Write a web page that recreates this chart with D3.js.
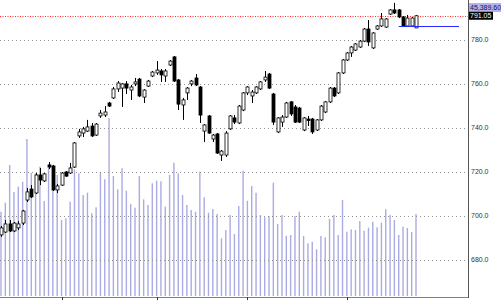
<!DOCTYPE html>
<html>
<head>
<meta charset="utf-8">
<script src="https://cdn.jsdelivr.net/npm/d3@7"></script>
<style>
  body { margin: 0; background: #fff; }
  svg { display: block; font-family: "Liberation Sans", Arial, sans-serif; }
</style>
</head>
<body>
<svg id="chart" width="501" height="300"></svg>
<script>
// daily OHLC
var opens = [691.2, 692.5, 696.2, 693.0, 694.4, 696.6, 707.1, 712.1, 710.3, 718.5,
  715.8, 723.1, 722.6, 711.7, 713.9, 719.9, 719.4, 722.1, 736.3, 737.6,
  738.5, 740.8, 736.7, 745.4, 745.8, 751.3, 753.6, 757.7, 758.1, 760.0,
  757.2, 760.0, 762.2, 754.0, 759.0, 763.6, 765.0, 765.9, 763.6, 768.6,
  772.3, 761.8, 750.4, 755.9, 760.0, 762.7, 758.6, 738.5, 745.4, 734.9,
  737.2, 727.6, 727.6, 739.5, 744.5, 742.2, 748.1, 755.9, 754.5, 755.9,
  757.7, 761.8, 764.5, 755.4, 738.1, 742.6, 744.9, 751.8, 749.5, 749.0,
  739.0, 744.0, 744.0, 739.0, 743.6, 747.2, 751.8, 758.1, 755.9, 765.0,
  770.9, 774.1, 775.4, 776.8, 779.5, 785.0, 776.4, 785.0, 786.4, 785.9,
  791.8, 793.7, 793.7, 790.5, 786.4, 786.4, 785.5];
var highs = [695.3, 698.0, 698.0, 697.1, 697.5, 702.6, 712.6, 713.9, 719.4, 721.7,
  719.4, 724.4, 723.1, 714.4, 719.9, 720.3, 724.0, 733.5, 739.5, 740.4,
  743.6, 742.2, 742.2, 748.1, 749.9, 751.8, 758.6, 761.3, 760.4, 761.3,
  759.5, 762.7, 762.7, 757.6, 761.8, 765.9, 770.4, 766.8, 766.8, 770.9,
  772.7, 762.2, 753.6, 758.6, 761.8, 764.5, 759.0, 741.7, 745.8, 737.2,
  737.6, 729.9, 738.5, 745.8, 745.8, 750.4, 756.3, 759.0, 757.2, 759.0,
  761.3, 765.9, 765.0, 755.9, 744.9, 745.8, 751.8, 752.2, 750.4, 749.5,
  744.9, 745.4, 744.5, 744.0, 750.4, 752.2, 758.6, 758.6, 765.4, 771.3,
  774.5, 777.3, 778.6, 780.0, 785.5, 789.1, 783.6, 786.8, 792.3, 790.0,
  794.1, 796.9, 794.1, 790.9, 791.4, 790.5, 791.4];
var lows = [690.3, 692.1, 692.5, 692.5, 693.4, 695.7, 706.2, 708.0, 709.8, 713.9,
  715.3, 721.2, 711.2, 710.3, 713.5, 717.6, 719.0, 721.7, 735.4, 735.8,
  738.1, 735.8, 736.3, 744.5, 744.9, 749.5, 753.1, 756.3, 749.5, 755.4,
  752.7, 759.0, 754.0, 751.3, 758.6, 763.1, 764.1, 760.9, 760.9, 768.2,
  760.9, 748.1, 743.6, 752.7, 759.0, 759.0, 742.2, 733.5, 737.2, 733.5,
  728.1, 724.9, 726.7, 739.0, 741.7, 741.7, 747.6, 754.9, 751.3, 755.4,
  757.2, 760.9, 757.7, 741.3, 737.6, 740.4, 744.5, 745.4, 742.2, 742.2,
  738.5, 740.8, 737.2, 738.5, 743.1, 746.7, 751.3, 754.0, 755.4, 764.5,
  770.4, 772.3, 775.0, 776.4, 779.1, 777.3, 775.9, 784.6, 785.9, 785.5,
  791.4, 791.8, 790.0, 785.9, 785.9, 785.9, 785.5];
var closes = [694.4, 696.2, 693.0, 696.6, 696.2, 702.1, 710.8, 708.5, 718.5, 716.2,
  719.0, 722.1, 711.7, 713.5, 719.4, 718.0, 721.7, 733.1, 738.1, 739.5,
  740.4, 736.3, 741.7, 746.7, 747.2, 749.9, 757.7, 760.4, 760.0, 758.1,
  758.6, 760.9, 754.5, 757.2, 761.3, 765.4, 766.3, 764.1, 765.9, 770.4,
  761.3, 750.8, 752.7, 758.1, 761.3, 759.5, 745.8, 741.3, 737.6, 736.7,
  728.5, 729.4, 737.6, 745.4, 742.6, 749.9, 755.9, 758.6, 756.3, 758.6,
  760.9, 763.1, 758.1, 742.6, 744.5, 744.9, 751.3, 746.3, 742.6, 742.6,
  744.5, 743.3, 738.1, 743.6, 749.9, 751.8, 758.1, 754.5, 765.0, 770.9,
  774.1, 776.8, 778.2, 779.5, 785.0, 779.1, 783.2, 786.4, 789.6, 789.6,
  793.7, 792.3, 790.5, 786.4, 790.0, 790.0, 791.05];
var volumes = [46650, 51630, 72500, 57550, 60490, 63250, 86880, 68070, 67900, 71550,
  52570, 70830, 72500, 66960, 42060, 43000, 52190, 70110, 67900, 55890,
  57170, 45770, 49090, 68450, 64580, 98500, 66410, 59050, 70670, 58270,
  50910, 48870, 66410, 53510, 50360, 62370, 63810, 63470, 49420, 66960,
  73770, 67900, 55890, 50360, 47590, 46650, 68790, 54620, 46100, 48150,
  45380, 31930, 36520, 44830, 34310, 49810, 69340, 52740, 60870, 57170,
  44830, 43550, 44270, 62700, 39840, 44830, 33370, 33760, 44270, 46650,
  33200, 29160, 30050, 25840, 33200, 32480, 42610, 44830, 33760, 53130,
  35580, 36910, 36520, 41500, 36140, 37800, 41120, 38020, 40560, 47980,
  44830, 42060, 33760, 38350, 37630, 35420, 45389.6];

var priceTicks = [680, 700, 720, 740, 760, 780];
var monthTicks = [14, 36, 57, 80];
var lastVolumeLabel = "45,389.60";
var lastClose = 791.05;
var stopLevel = 786.4;
var stopFrom = 92;

var largeur = 501, hauteur = 300;
var plotDroite = 468, plotBas = 297;
var n = closes.length;

var x = d3.scaleLinear().domain([0, n - 1]).range([1, 416]);
var yPrix = d3.scaleLinear().domain([680, 780]).range([259.5, 40]);
var yVol = d3.scaleLinear().domain([0, 100000]).range([296, 115.3]);

var svg = d3.select("#chart");
var data = d3.range(n).map(function(i) {
  return {i: i, o: opens[i], h: highs[i], l: lows[i], c: closes[i], v: volumes[i]};
});

// volume bars
svg.append("g").selectAll("rect")
  .data(data)
  .enter()
  .append("rect")
  .attr("x", d => x(d.i) - 0.7)
  .attr("width", 1.4)
  .attr("y", d => yVol(d.v))
  .attr("height", d => yVol(0) - yVol(d.v))
  .style("fill", "#ababe4");

// dotted grid
svg.append("g").selectAll("line")
  .data(priceTicks)
  .enter()
  .append("line")
  .attr("x1", 0).attr("x2", plotDroite - 1)
  .attr("y1", d => Math.round(yPrix(d)) + 0.5)
  .attr("y2", d => Math.round(yPrix(d)) + 0.5)
  .style("stroke", "#909090")
  .style("stroke-dasharray", "1,3");

// last close line
svg.append("line")
  .attr("x1", 0).attr("x2", plotDroite)
  .attr("y1", Math.round(yPrix(lastClose)) + 0.5)
  .attr("y2", Math.round(yPrix(lastClose)) + 0.5)
  .style("stroke", "#ff3030")
  .style("stroke-dasharray", "1,1.5");

// candles
var bougies = svg.append("g").selectAll("g")
  .data(data)
  .enter()
  .append("g");

bougies.append("line")
  .attr("x1", d => Math.round(x(d.i)) + 0.5)
  .attr("x2", d => Math.round(x(d.i)) + 0.5)
  .attr("y1", d => yPrix(d.h))
  .attr("y2", d => yPrix(d.l))
  .style("stroke", "#000");

bougies.append("rect")
  .attr("x", d => Math.round(x(d.i)) - 1)
  .attr("width", 3)
  .attr("y", d => yPrix(Math.max(d.o, d.c)))
  .attr("height", d => Math.max(1, Math.abs(yPrix(d.o) - yPrix(d.c))))
  .style("fill", d => d.c >= d.o ? "#fff" : "#000")
  .style("stroke", "#000")
  .style("stroke-width", 0.8);

// blue level line
svg.append("line")
  .attr("x1", x(stopFrom)).attr("x2", 459)
  .attr("y1", Math.round(yPrix(stopLevel)) + 0.5)
  .attr("y2", Math.round(yPrix(stopLevel)) + 0.5)
  .style("stroke", "#2828ff");

// axes
svg.append("line")
  .attr("x1", 0).attr("x2", plotDroite)
  .attr("y1", plotBas + 0.5).attr("y2", plotBas + 0.5)
  .style("stroke", "#808080");
svg.append("g").selectAll("line")
  .data(monthTicks)
  .enter()
  .append("line")
  .attr("x1", d => Math.round(x(d)) + 0.5)
  .attr("x2", d => Math.round(x(d)) + 0.5)
  .attr("y1", plotBas).attr("y2", hauteur)
  .style("stroke", "#333");

svg.append("line")
  .attr("x1", plotDroite + 0.5).attr("x2", plotDroite + 0.5)
  .attr("y1", 0).attr("y2", plotBas + 1)
  .style("stroke", "#555");

svg.append("g").selectAll("text")
  .data(priceTicks)
  .enter()
  .append("text")
  .attr("x", plotDroite + 3)
  .attr("y", d => yPrix(d))
  .attr("dy", "0.35em")
  .style("font-size", "7px")
  .style("fill", "#333")
  .text(d => d3.format(".1f")(d));

// value boxes on the right
svg.append("rect")
  .attr("x", plotDroite + 1).attr("y", 3)
  .attr("width", largeur - plotDroite - 1).attr("height", 9)
  .style("fill", "#b4b4ea");
svg.append("text")
  .attr("x", plotDroite + 2).attr("y", 10)
  .style("font-size", "7px")
  .style("fill", "#10105a")
  .text(lastVolumeLabel);

svg.append("rect")
  .attr("x", plotDroite + 1).attr("y", yPrix(lastClose) - 4)
  .attr("width", 24).attr("height", 8)
  .style("fill", "#000");
svg.append("text")
  .attr("x", plotDroite + 2).attr("y", yPrix(lastClose))
  .attr("dy", "0.35em")
  .style("font-size", "7px")
  .style("fill", "#fff")
  .text(d3.format(".2f")(lastClose));
</script>
</body>
</html>
